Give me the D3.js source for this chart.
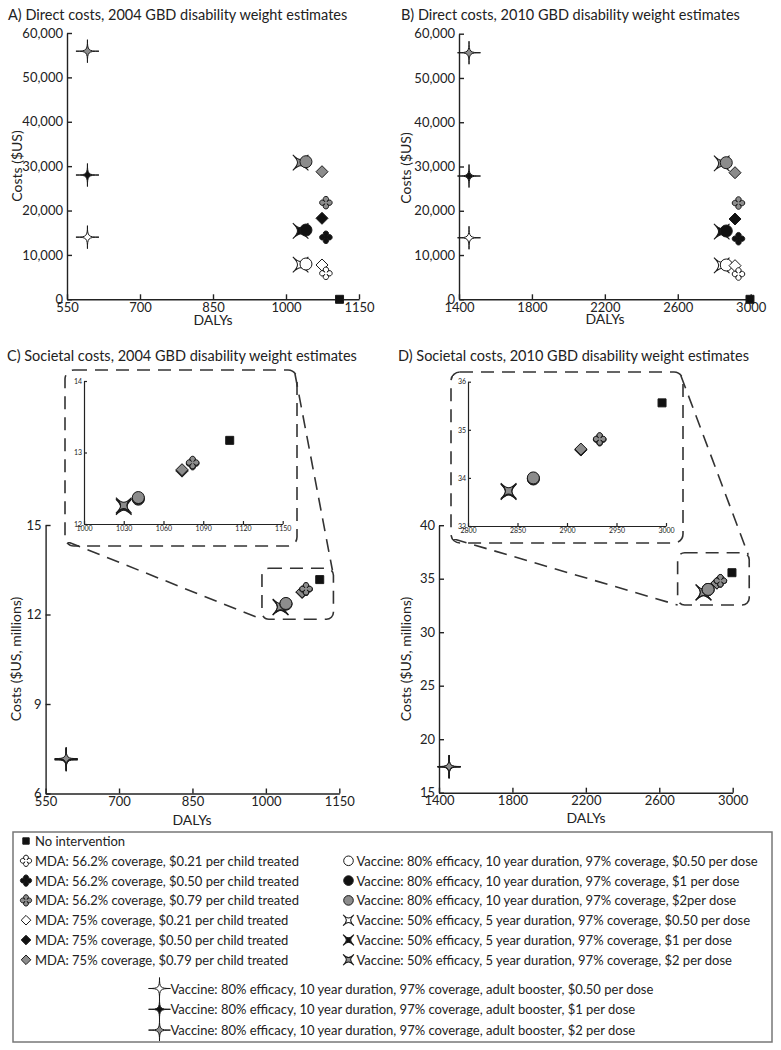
<!DOCTYPE html>
<html><head><meta charset="utf-8">
<script src="https://cdn.jsdelivr.net/npm/d3@7"></script>
<style>
body{margin:0;background:#fff}
svg{display:block}
text{font-family:Lato,"Open Sans",sans-serif;fill:#222}
</style>
</head><body>
<svg id="chart" width="781" height="1050"></svg>
<script>
// ---------------- DATA ----------------
const seriesLabels = [
  "No intervention",
  "MDA: 56.2% coverage, $0.21 per child treated",
  "MDA: 56.2% coverage, $0.50 per child treated",
  "MDA: 56.2% coverage, $0.79 per child treated",
  "MDA: 75% coverage, $0.21 per child treated",
  "MDA: 75% coverage, $0.50 per child treated",
  "MDA: 75% coverage, $0.79 per child treated",
  "Vaccine: 80% efficacy, 10 year duration, 97% coverage, $0.50 per dose",
  "Vaccine: 80% efficacy, 10 year duration, 97% coverage, $1 per dose",
  "Vaccine: 80% efficacy, 10 year duration, 97% coverage, $2per dose",
  "Vaccine: 50% efficacy, 5 year duration, 97% coverage, $0.50 per dose",
  "Vaccine: 50% efficacy, 5 year duration, 97% coverage, $1 per dose",
  "Vaccine: 50% efficacy, 5 year duration, 97% coverage, $2 per dose",
  "Vaccine: 80% efficacy, 10 year duration, 97% coverage, adult booster, $0.50 per dose",
  "Vaccine: 80% efficacy, 10 year duration, 97% coverage, adult booster, $1 per dose",
  "Vaccine: 80% efficacy, 10 year duration, 97% coverage, adult booster, $2 per dose"
];
const dalys2004 = [1110, 1082,1082,1082, 1074,1074,1074, 1041,1041,1041, 1030,1030,1030, 592,592,592];
const dalys2010 = [2996, 2933,2933,2933, 2914,2914,2914, 2866,2866,2866, 2841,2841,2841, 1455,1455,1455];
const directCosts2004 = [0, 5860,13970,21770, 7730,18250,28750, 7950,15600,31000, 7800,15400,30800, 14000,28000,55900];
const directCosts2010 = [0, 5710,13690,21750, 7600,18140,28600, 7750,15430,30860, 7650,15300,30700, 13900,27850,55700];
const societalCosts2004 = [13.17, 12.844,12.852,12.86, 12.739,12.749,12.76, 12.347,12.355,12.37, 12.237,12.245,12.26, 7.128,7.142,7.17];
const societalCosts2010 = [35.56, 34.794,34.802,34.81, 34.579,34.589,34.6, 33.977,33.985,34.0, 33.707,33.715,33.73, 17.41,17.42,17.45];

const xTicks2004 = [550,700,850,1000,1150];
const xTicks2010 = [1400,1800,2200,2600,3000];
const yTicksDirect = [0,10000,20000,30000,40000,50000,60000];
const yTicksSoc2004 = [6,9,12,15];
const yTicksSoc2010 = [15,20,25,30,35,40];
const insetXTicks2004 = [1000,1030,1060,1090,1120,1150];
const insetYTicks2004 = [12,13,14];
const insetXTicks2010 = [2800,2850,2900,2950,3000];
const insetYTicks2010 = [33,34,35,36];

// ---------------- STYLE ----------------
const shapes = ["square","quatre","quatre","quatre","diamond","diamond","diamond","circle","circle","circle","xstar","xstar","xstar","star","star","star"];
const W="#ffffff", B="#111111", G="#8c8c8c";
const fills = [B, W,B,G, W,B,G, W,B,G, W,B,G, W,B,G];
const drawOrder = [13,14,15,10,11,12,7,8,9,4,5,6,1,2,3,0];

function starPath(R, s){
  return `M0,${-R}C0,${-s} ${s},0 ${R},0C${s},0 0,${s} 0,${R}C0,${s} ${-s},0 ${-R},0C${-s},0 0,${-s} 0,${-R}Z`;
}
function quatrePath(c, rl){
  return `M${c},${-c}A${rl},${rl} 0 1 1 ${c},${c}A${rl},${rl} 0 1 1 ${-c},${c}A${rl},${rl} 0 1 1 ${-c},${-c}A${rl},${rl} 0 1 1 ${c},${-c}Z`;
}
function markerPath(shape, k){
  k = k || 1;
  switch(shape){
    case "square": { const h=4*k; return `M${-h},${-h}H${h}V${h}H${-h}Z`; }
    case "circle": { const r=6*k; return `M${r},0A${r},${r} 0 1 1 ${-r},0A${r},${r} 0 1 1 ${r},0Z`; }
    case "diamond": { const h=6*k; return `M0,${-h}L${h},0L0,${h}L${-h},0Z`; }
    case "quatre": return quatrePath(1.1*k, 2.7*k);
    case "star": return starPath(11.5*k, 0.9*k);
    case "xstar": return starPath(11*k, 2.2*k);
  }
}
function drawMarker(g, shape, fill, x, y, k){
  g.append("path")
    .attr("d", markerPath(shape, k))
    .attr("transform", `translate(${x},${y})` + (shape==="xstar" ? " rotate(45)" : ""))
    .attr("fill", fill).attr("stroke", "#1a1a1a").attr("stroke-width", 1);
}

const svg = d3.select("#chart");

function styleAxis(g, fs, col){
  g.attr("font-family", null).attr("font-size", null);
  g.selectAll("path.domain").attr("stroke", "#222").attr("stroke-width", 1.4);
  g.selectAll(".tick line").attr("stroke", "#222").attr("stroke-width", 1.4);
  g.selectAll(".tick text").style("font-size", fs + "px").attr("fill", col || "#222");
}

function panel(opts){
  const x = d3.scaleLinear().domain(opts.xDomain).range(opts.xRange);
  const y = d3.scaleLinear().domain(opts.yDomain).range(opts.yRange);
  const fs = opts.fs || 13;
  const tk = opts.tick || 5;
  const gx = svg.append("g").attr("transform", `translate(0,${opts.yRange[0]})`)
    .call(d3.axisBottom(x).tickValues(opts.xTicks).tickSizeInner(-tk).tickSizeOuter(0).tickPadding(opts.xPad||3).tickFormat(d3.format("d")));
  styleAxis(gx, fs, opts.tickColor);
  const gy = svg.append("g").attr("transform", `translate(${opts.xRange[0]},0)`)
    .call(d3.axisLeft(y).tickValues(opts.yTicks).tickSizeInner(-tk).tickSizeOuter(0).tickPadding(opts.yPad||4).tickFormat(opts.yFormat || d3.format("d")));
  styleAxis(gy, fs, opts.tickColor);
  if (opts.domainWidth){ gx.selectAll("path.domain,.tick line").attr("stroke-width", opts.domainWidth); gy.selectAll("path.domain,.tick line").attr("stroke-width", opts.domainWidth); }
  if (opts.title) svg.append("text").attr("x", opts.titleX).attr("y", opts.titleY).style("font-size","14.5px").text(opts.title);
  if (opts.xLabel) svg.append("text").attr("x", opts.xLabelX).attr("y", opts.xLabelY).attr("text-anchor","middle").style("font-size","14px").text(opts.xLabel);
  if (opts.yLabel) svg.append("text").attr("transform", `translate(${opts.yLabelX},${opts.yLabelY}) rotate(-90)`).attr("text-anchor","middle").attr("dominant-baseline","central").style("font-size","14px").text(opts.yLabel);
  const gm = svg.append("g");
  drawOrder.forEach(i => {
    const xv = opts.xs[i], yv = opts.ys[i];
    if (xv < opts.xDomain[0]-1e-9 || xv > opts.xDomain[1]+1e-9 || yv < opts.yDomain[0]-1e-9 || yv > opts.yDomain[1]+1e-9) return;
    drawMarker(gm, shapes[i], fills[i], x(xv), y(yv), opts.k || 1);
  });
  return {x, y};
}

// Panel A
panel({xDomain:[550,1150], xRange:[67,359], yDomain:[0,60000], yRange:[299.3,33],
  xTicks:xTicks2004, yTicks:yTicksDirect, yFormat:d3.format(","),
  xs:dalys2004, ys:directCosts2004,
  title:"A) Direct costs, 2004 GBD disability weight estimates", titleX:8, titleY:20,
  xLabel:"DALYs", xLabelX:213, xLabelY:325, yLabel:"Costs ($US)", yLabelX:16, yLabelY:166});
// Panel B
panel({xDomain:[1400,3000], xRange:[459,750.7], yDomain:[0,60000], yRange:[299.3,33.7],
  xTicks:xTicks2010, yTicks:yTicksDirect, yFormat:d3.format(","),
  xs:dalys2010, ys:directCosts2010,
  title:"B) Direct costs, 2010 GBD disability weight estimates", titleX:401, titleY:20,
  xLabel:"DALYs", xLabelX:605, xLabelY:324, yLabel:"Costs ($US)", yLabelX:405, yLabelY:168});

// Insets frames & connectors (annotation)
function zoomFrame(main, box, inset){
  const bx0 = main.x(box.x[0]), bx1 = main.x(box.x[1]), by0 = main.y(box.y[1]), by1 = main.y(box.y[0]);
  const dash = "13,8";
  const st = (s)=>s.attr("fill","none").attr("stroke","#333").attr("stroke-width",1.6).attr("stroke-dasharray",dash);
  st(svg.append("rect").attr("x",bx0).attr("y",by0).attr("width",bx1-bx0).attr("height",by1-by0).attr("rx",7));
  st(svg.append("rect").attr("x",inset.x0).attr("y",inset.y0).attr("width",inset.x1-inset.x0).attr("height",inset.y1-inset.y0).attr("rx",9));
  st(svg.append("line").attr("x1",inset.x0+3).attr("y1",inset.y1-4).attr("x2",bx0).attr("y2",by1));
  st(svg.append("line").attr("x1",inset.x1-2).attr("y1",inset.y0+4).attr("x2",bx1-1).attr("y2",by0+2));
}

// Panel C
const pc = panel({xDomain:[550,1150], xRange:[45.6,339.3], yDomain:[6,15], yRange:[793.5,525],
  xTicks:xTicks2004, yTicks:yTicksSoc2004, xs:dalys2004, ys:societalCosts2004,
  title:"C) Societal costs, 2004 GBD disability weight estimates", titleX:7, titleY:361,
  xLabel:"DALYs", xLabelX:192, xLabelY:825, yLabel:"Costs ($US, millions)", yLabelX:15, yLabelY:659});
zoomFrame(pc, {x:[992,1138], y:[11.84,13.55]}, {x0:65, y0:370, x1:297, y1:546});
svg.append("rect").attr("x",67).attr("y",374).attr("width",226).attr("height",168).attr("fill","#fff");
panel({xDomain:[1000,1150], xRange:[84,282.7], yDomain:[12,14], yRange:[524,381],
  xTicks:insetXTicks2004, yTicks:insetYTicks2004, xs:dalys2004, ys:societalCosts2004,
  fs:7, tick:3, xPad:2, yPad:2, tickColor:"#555", domainWidth:1.2});

// Panel D
const pd = panel({xDomain:[1400,3000], xRange:[439,732.7], yDomain:[15,40], yRange:[792.7,525.2],
  xTicks:xTicks2010, yTicks:yTicksSoc2010, xs:dalys2010, ys:societalCosts2010,
  title:"D) Societal costs, 2010 GBD disability weight estimates", titleX:398, titleY:361,
  xLabel:"DALYs", xLabelX:586, xLabelY:823, yLabel:"Costs ($US, millions)", yLabelX:405, yLabelY:659});
zoomFrame(pd, {x:[2700,3090], y:[32.54,37.43]}, {x0:451, y0:372, x1:683, y1:543});
svg.append("rect").attr("x",453).attr("y",376).attr("width",226).attr("height",163).attr("fill","#fff");
panel({xDomain:[2800,3000], xRange:[468,666], yDomain:[33,36], yRange:[526,381.7],
  xTicks:insetXTicks2010, yTicks:insetYTicks2010, xs:dalys2010, ys:societalCosts2010,
  fs:7, tick:3, xPad:2, yPad:2, tickColor:"#555", domainWidth:1.2});

// ---------------- LEGEND ----------------
svg.append("rect").attr("x",13).attr("y",832).attr("width",759).attr("height",210)
  .attr("fill","none").attr("stroke","#777").attr("stroke-width",1.5);
const lg = svg.append("g");
function legendItem(i, mx, tx, y){
  const k = shapes[i]==="star" ? 0.95 : (shapes[i]==="xstar" ? 0.7 : (shapes[i]==="quatre" ? 0.9 : 0.8));
  drawMarker(lg, shapes[i], fills[i], mx, y, k);
  lg.append("text").attr("x",tx).attr("y",y).attr("dominant-baseline","central").style("font-size","13px").text(seriesLabels[i]);
}
[0,1,2,3,4,5,6].forEach((i,j)=>legendItem(i, 26, 35, 841 + j*19.8));
[7,8,9,10,11,12].forEach((i,j)=>legendItem(i, 348.5, 356.5, 860.8 + j*19.8));
[13,14,15].forEach((i,j)=>legendItem(i, 159.5, 170.5, 988.5 + j*20.8));
</script>
</body></html>
